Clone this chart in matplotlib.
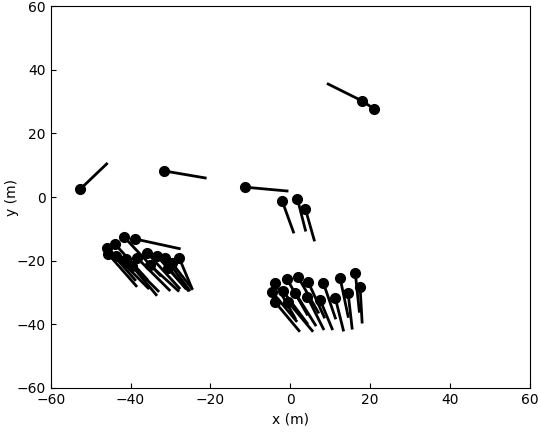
import numpy as np
import matplotlib.pyplot as plt

# final positions (dots) and tail offsets (where each track came from)
dot_x = [-52.6, -31.6, -11.3, -2.0, 1.8, 3.8, 18.0, 21.0,
         -45.9, -43.9, -41.6, -38.8, -45.6, -43.6, -41.1, -38.3, -35.8, -33.3, -31.3, -29.6, -27.8, -39.6, -35.1, -30.6,
         -3.8, -0.8, 2.0, 4.5, 8.3, 12.5, 16.3, 17.5, -4.5, -1.8, 1.3, 4.3, 7.5, 11.3, 14.5, -3.8, -0.5]
dot_y = [2.5, 8.2, 3.1, -1.3, -0.6, -3.8, 30.2, 27.7,
         -16.0, -14.8, -12.6, -13.2, -17.9, -18.6, -19.5, -19.2, -17.6, -18.6, -19.2, -20.8, -19.2, -21.7, -21.4, -22.3,
         -27.0, -25.8, -25.2, -26.7, -27.0, -25.5, -23.9, -28.3, -29.9, -29.6, -30.2, -31.4, -32.4, -31.8, -30.2, -33.0, -33.0]
tail_dx = [6.6, 10.3, 10.5, 2.8, 2.0, 2.2, -8.5, -3.0,
           7, 8, 9, 11, 7, 8, 8, 8, 8, 7, 6, 5, 3, 6, 7, 5,
           5, 5, 5, 4, 3, 2, 1, 0.5, 6, 6, 5, 4, 3, 2, 1, 6, 6]
tail_dy = [7.9, -2.2, -1.2, -9.7, -9.8, -9.7, 5.3, 2.5,
           -10, -11, -12, -3, -10, -10, -10, -10, -11, -10, -10, -8, -9, -9, -8, -7,
           -11, -11, -11, -11, -11, -12, -12, -11, -9, -10, -10, -10, -9, -10, -11, -9, -9]

fig = plt.figure(figsize=(5.4, 4.34), dpi=100)
ax = fig.add_axes([0.094, 0.106, 0.887, 0.88])
for x, y, dx, dy in zip(dot_x, dot_y, tail_dx, tail_dy):
    ax.plot([x + dx, x], [y + dy, y], '-', color='k', lw=2)
ax.plot(dot_x, dot_y, 'o', color='k', ms=7)

ax.set_xlim(-60, 60)
ax.set_ylim(-60, 60)
ax.set_xticks(np.arange(-60, 61, 20))
ax.set_yticks(np.arange(-60, 61, 20))
ax.tick_params(direction='in', labelsize=10)
ax.set_xlabel('x (m)')
ax.set_ylabel('y (m)', labelpad=-2)
fig.savefig('out.png', dpi=100)
